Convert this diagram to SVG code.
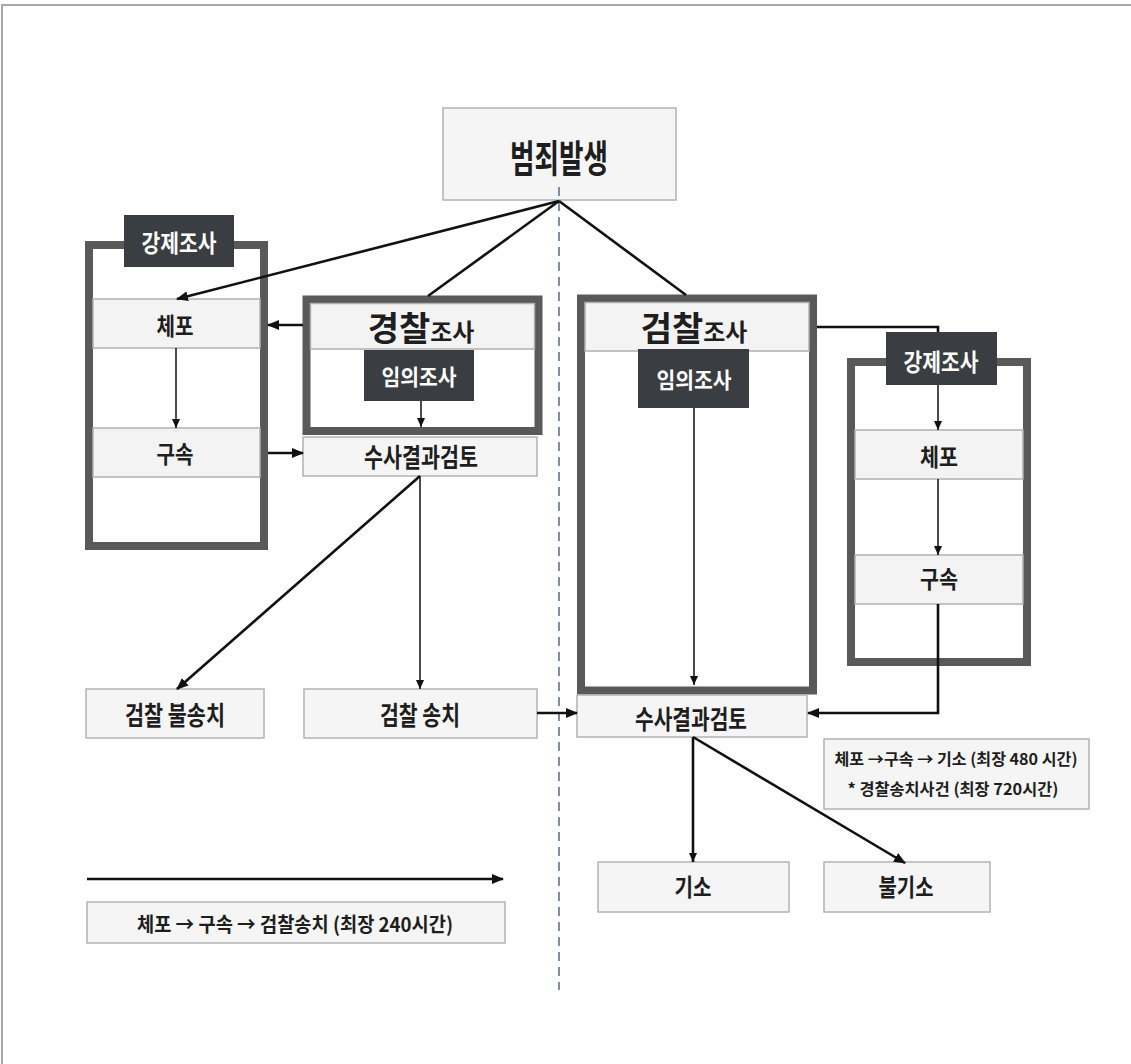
<svg xmlns="http://www.w3.org/2000/svg" width="1131" height="1064" viewBox="0 0 1131 1064">
<style>
text{font-family:"Noto Sans CJK KR","Noto Sans",sans-serif;font-weight:bold;fill:#1e1e1e;text-anchor:middle;dominant-baseline:central}
.box{fill:#f5f5f5;stroke:#b3b3b3;stroke-width:1.5}
.row{fill:#f3f3f3;stroke:#b0b0b0;stroke-width:1.5}
.cont{fill:#fff;stroke:#595959;stroke-width:8}
.dark{fill:#3a3d41}
.wt{fill:#fff;font-weight:bold}
.ln{fill:none;stroke:#111;stroke-width:2.6}
.thin{fill:none;stroke:#111;stroke-width:1.5}
</style>
<defs>
<marker id="ah" markerUnits="userSpaceOnUse" markerWidth="12" markerHeight="10" refX="11" refY="5" orient="auto"><path d="M0,0 L12,5 L0,10 z" fill="#111"/></marker>
<marker id="as" markerUnits="userSpaceOnUse" markerWidth="9" markerHeight="8" refX="9" refY="4" orient="auto"><path d="M0,0 L9,4 L0,8 z" fill="#111"/></marker>
</defs>
<rect x="0" y="0" width="1131" height="1064" fill="#fff"/>
<path d="M2,1064 V5 H1131" fill="none" stroke="#a6a6a6" stroke-width="2"/>

<g id="crime">
<rect class="box" x="443" y="108" width="233" height="92"/>
<text x="559" y="155" font-size="38" textLength="98" lengthAdjust="spacingAndGlyphs">범죄발생</text>
</g>

<g id="left-coercive">
<rect class="cont" x="89" y="245" width="175" height="301"/>
<rect class="row" x="93" y="299" width="167" height="49"/>
<text x="175" y="324" font-size="24" textLength="37" lengthAdjust="spacingAndGlyphs">체포</text>
<rect class="row" x="93" y="428" width="167" height="49"/>
<text x="175" y="452" font-size="24" textLength="37" lengthAdjust="spacingAndGlyphs">구속</text>
<rect class="dark" x="124" y="215" width="110" height="52"/>
<text class="wt" x="179" y="241" font-size="24" textLength="75" lengthAdjust="spacingAndGlyphs">강제조사</text>
</g>

<g id="police">
<rect class="cont" x="306.5" y="299.5" width="232" height="131.5"/>
<rect class="row" x="310.5" y="303.5" width="224" height="45.5"/>
<text x="421" y="341" style="dominant-baseline:alphabetic"><tspan font-size="34">경찰</tspan><tspan font-size="24">조사</tspan></text>
<rect class="dark" x="364" y="350" width="110" height="51"/>
<text class="wt" x="419" y="375" font-size="22" textLength="75" lengthAdjust="spacingAndGlyphs">임의조사</text>
</g>

<g id="police-review">
<rect class="box" x="303" y="437" width="234" height="39"/>
<text x="421" y="455" font-size="26" textLength="114" lengthAdjust="spacingAndGlyphs">수사결과검토</text>
</g>

<g id="no-transfer">
<rect class="box" x="86" y="689" width="178" height="49"/>
<text x="175" y="713" font-size="26" textLength="100" lengthAdjust="spacingAndGlyphs">검찰 불송치</text>
</g>

<g id="transfer">
<rect class="box" x="304" y="689" width="233" height="49"/>
<text x="420" y="713" font-size="26" textLength="80" lengthAdjust="spacingAndGlyphs">검찰 송치</text>
</g>

<g id="prosecution">
<rect class="cont" x="581" y="298.5" width="232" height="392"/>
<rect class="row" x="585" y="302.5" width="224" height="48.5"/>
<text x="694" y="341" style="dominant-baseline:alphabetic"><tspan font-size="34">검찰</tspan><tspan font-size="24">조사</tspan></text>
<rect class="dark" x="638" y="349" width="111" height="59"/>
<text class="wt" x="694" y="378" font-size="22" textLength="75" lengthAdjust="spacingAndGlyphs">임의조사</text>
</g>

<g id="right-coercive">
<rect class="cont" x="851" y="362" width="176" height="300"/>
<rect class="row" x="855" y="430" width="168" height="49"/>
<text x="939" y="455" font-size="24" textLength="38" lengthAdjust="spacingAndGlyphs">체포</text>
<rect class="row" x="855" y="555" width="168" height="49"/>
<text x="939" y="577" font-size="24" textLength="38" lengthAdjust="spacingAndGlyphs">구속</text>
<rect class="dark" x="886" y="332" width="111" height="53"/>
<text class="wt" x="941" y="360" font-size="24" textLength="75" lengthAdjust="spacingAndGlyphs">강제조사</text>
</g>

<g id="pros-review">
<rect class="box" x="577" y="695" width="230" height="42"/>
<text x="691" y="717" font-size="26" textLength="112" lengthAdjust="spacingAndGlyphs">수사결과검토</text>
</g>

<g id="note-right">
<rect class="box" x="824" y="739" width="265" height="70"/>
<text x="956" y="758" font-size="16" textLength="243" lengthAdjust="spacingAndGlyphs">체포 →구속 → 기소 (최장 480 시간)</text>
<text x="953" y="788" font-size="16" textLength="211" lengthAdjust="spacingAndGlyphs">* 경찰송치사건 (최장 720시간)</text>
</g>

<g id="indict">
<rect class="box" x="598" y="862" width="191" height="50"/>
<text x="693" y="885" font-size="24" textLength="37" lengthAdjust="spacingAndGlyphs">기소</text>
</g>

<g id="no-indict">
<rect class="box" x="824" y="862" width="166" height="50"/>
<text x="906" y="885" font-size="24" textLength="55" lengthAdjust="spacingAndGlyphs">불기소</text>
</g>

<g id="note-left">
<rect class="box" x="87" y="902" width="418" height="41"/>
<text x="295" y="923" font-size="20" textLength="316" lengthAdjust="spacingAndGlyphs">체포 → 구속 → 검찰송치 (최장 240시간)</text>
</g>

<g id="connectors">
<line x1="559" y1="187" x2="559" y2="990" stroke="#7f8ea8" stroke-width="2" stroke-dasharray="9,6"/>
<line class="ln" x1="559" y1="201" x2="177" y2="299" marker-end="url(#ah)"/>
<line class="ln" x1="559" y1="201" x2="428" y2="296"/>
<line class="ln" x1="559" y1="201" x2="686" y2="295"/>
<line class="thin" x1="176" y1="348" x2="176" y2="428" marker-end="url(#as)"/>
<line class="ln" x1="303" y1="325" x2="268" y2="325" stroke-width="3" marker-end="url(#ah)"/>
<line class="ln" x1="268" y1="453" x2="303" y2="453" stroke-width="3" marker-end="url(#ah)"/>
<line class="thin" x1="421" y1="401" x2="421" y2="427" marker-end="url(#as)"/>
<line class="ln" x1="420" y1="476" x2="177" y2="689" marker-end="url(#ah)"/>
<line class="thin" x1="420" y1="476" x2="420" y2="689" marker-end="url(#as)"/>
<line class="ln" x1="537" y1="713" x2="577" y2="713" marker-end="url(#ah)"/>
<line class="thin" x1="694" y1="408" x2="694" y2="685" marker-end="url(#as)"/>
<path class="ln" d="M817,327 H938 V332"/>
<line class="thin" x1="938" y1="385" x2="938" y2="430" marker-end="url(#as)"/>
<line class="thin" x1="938" y1="479" x2="938" y2="555" marker-end="url(#as)"/>
<path class="ln" d="M938,604 V713 H808" stroke-width="2.8" marker-end="url(#ah)"/>
<line class="ln" x1="693" y1="737" x2="693" y2="862" marker-end="url(#as)"/>
<line class="ln" x1="693" y1="737" x2="905" y2="863" stroke-width="2.8" marker-end="url(#ah)"/>
<line class="ln" x1="87" y1="879" x2="503" y2="879" stroke-width="3.4" marker-end="url(#ah)"/>
</g>
</svg>
